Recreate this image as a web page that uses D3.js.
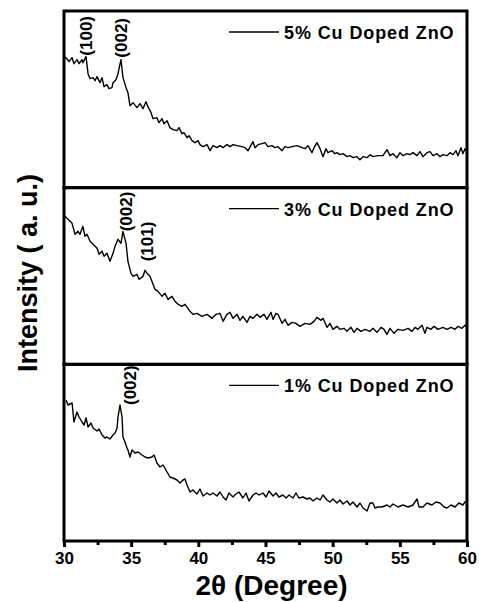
<!DOCTYPE html>
<html>
<head>
<meta charset="utf-8">
<script src="https://cdn.jsdelivr.net/npm/d3@7"></script>
<style>
  body { margin: 0; background: #fff; }
  svg { font-family: "Liberation Sans", Arial, sans-serif; font-weight: bold; }
  path.line { fill: none; stroke: #000; stroke-width: 1.4px; stroke-linejoin: round; }
  rect.frame { fill: none; stroke: #000; stroke-width: 3px; }
  .x.axis path { display: none; }
  .x.axis line { stroke: #000; stroke-width: 3px; }
</style>
</head>
<body>
<svg id="svg"></svg>
<script>
// 2theta (deg) / intensity (a.u.), one pair of arrays per sample
var twoTheta5 = [30.0,30.22,30.37,30.6,30.74,30.97,31.12,31.34,31.41,31.64,31.79,31.94,32.16,32.31,32.46,32.68,32.83,32.98,33.2,33.35,33.57,33.65,33.87,34.02,34.24,34.39,34.62,34.76,34.91,35.14,35.43,35.66,35.88,36.1,36.25,36.48,36.63,36.92,37.07,37.3,37.44,37.67,37.89,38.11,38.41,38.56,38.78,38.93,39.16,39.31,39.53,39.75,39.98,
  40.12,40.35,40.65,40.87,41.09,41.39,41.61,41.84,42.13,42.36,42.58,42.88,43.25,43.47,43.7,44.07,44.22,44.44,44.74,44.96,45.19,45.48,45.71,45.93,46.23,46.45,46.68,46.97,47.35,47.72,47.94,48.16,48.46,48.61,48.83,49.06,49.28,49.5,49.65,49.95,50.17,50.32,50.54,50.77,51.07,51.29,51.51,51.81,52.03,52.26,52.56,52.78,53.0,53.37,53.75,54.04,54.27,54.49,54.79,55.01,55.24,55.53,55.76,55.98,56.28,56.5,56.72,57.02,57.25,57.47,57.77,57.99,58.21,58.51,58.74,58.96,59.18,59.33,59.55,59.7,59.85,60.0];
var intensity5 = [131,129,126,130,124,128,124,128,125,131,114,109,110,107,111,105,110,101,103,99,100,105,108,114,128,110,100,95,82,85,80,84,79,86,81,75,69,70,65,69,64,67,60,58,57,60,54,55,50,52,47,45,47,
  43,41,43,37,42,40,42,40,43,41,43,42,41,40,37,46,40,43,44,45,41,42,40,41,37,41,40,41,42,40,39,42,35,40,45,39,31,39,35,37,34,35,33,34,31,32,30,31,28,31,30,33,31,32,32,38,32,34,30,35,32,34,33,35,32,36,31,35,36,32,34,31,33,32,35,33,37,32,40,34,39,36];

var twoTheta3 = [30.07,30.3,30.6,30.82,31.04,31.19,31.41,31.56,31.71,31.94,32.16,32.46,32.61,32.83,32.98,33.2,33.42,33.65,33.8,34.02,34.24,34.39,34.62,34.76,34.99,35.14,35.43,35.58,35.88,36.03,36.18,36.4,36.63,36.77,37.0,37.3,37.52,37.74,38.04,38.26,38.49,38.78,39.01,39.23,
  39.38,39.6,39.9,40.27,40.65,41.02,41.32,41.61,41.84,42.13,42.36,42.58,42.88,43.1,43.32,43.62,43.85,44.07,44.37,44.59,44.89,45.11,45.41,45.56,45.78,45.93,46.23,46.45,46.68,46.97,47.27,47.57,47.94,48.31,48.61,48.83,49.13,49.28,49.58,49.8,50.02,50.32,50.54,50.84,51.07,51.36,51.59,51.81,52.11,52.41,52.78,53.0,53.3,53.6,53.82,54.04,54.27,54.57,54.86,55.24,55.61,55.91,56.13,56.35,56.65,56.87,57.02,57.32,57.54,57.84,58.21,58.51,58.81,59.11,59.33,59.63,59.85,60.0];
var intensity3 = [148,145,141,130,133,130,138,128,130,123,120,116,110,113,108,111,103,111,118,125,121,133,121,103,91,88,90,85,88,94,91,88,80,75,73,68,71,65,68,63,60,58,60,56,
  53,50,51,48,50,46,50,51,43,50,52,46,50,44,48,42,48,46,50,47,50,45,52,45,51,50,41,45,39,42,41,38,41,40,43,47,44,46,37,41,35,38,35,36,33,37,32,36,33,35,33,36,32,37,35,30,36,31,35,34,36,33,37,35,39,31,37,35,38,35,37,35,37,35,38,36,39,37];

var twoTheta1 = [30.15,30.3,30.6,30.74,30.97,31.12,31.34,31.49,31.64,31.79,32.01,32.16,32.46,32.61,32.83,33.05,33.2,33.42,33.65,33.8,33.95,34.02,34.17,34.32,34.39,34.54,34.69,34.76,34.91,35.06,35.29,35.51,35.81,36.03,36.25,36.55,36.7,36.92,37.15,37.37,37.67,37.89,38.11,38.41,38.64,38.86,39.01,39.16,
  39.38,39.6,39.9,40.12,40.35,40.65,40.87,41.09,41.39,41.61,41.84,42.06,42.28,42.58,42.8,43.03,43.32,43.55,43.77,44.07,44.29,44.52,44.81,45.04,45.26,45.56,45.78,46.0,46.3,46.53,46.75,47.05,47.27,47.49,47.79,48.09,48.31,48.54,48.83,49.06,49.28,49.58,49.8,50.02,50.32,50.54,50.77,51.07,51.29,51.51,51.81,52.03,52.26,52.56,52.78,53.0,53.15,53.37,53.67,54.04,54.27,54.49,54.86,55.24,55.61,55.98,56.28,56.43,56.72,57.02,57.39,57.69,57.99,58.29,58.51,58.81,59.11,59.4,59.7,59.85,60.0];
var intensity1 = [141,136,138,119,129,124,119,116,123,114,118,113,110,112,106,103,104,102,106,108,113,124,136,124,104,99,93,91,84,91,88,89,86,84,83,84,86,78,74,76,69,64,63,61,58,61,62,56,
  49,51,47,52,45,48,46,48,45,49,44,41,48,44,47,49,43,48,40,46,48,46,48,44,50,45,48,44,46,43,46,43,48,43,44,42,43,40,43,41,46,41,39,42,38,41,37,40,36,39,34,38,33,30,38,38,33,34,34,36,34,37,34,36,34,36,42,34,34,38,36,39,38,34,33,36,34,38,36,39,40];

var sampleNames = ["5% Cu Doped ZnO", "3% Cu Doped ZnO", "1% Cu Doped ZnO"];

// Miller index labels: text, 2theta where the label sits, intensity at its lower end
var peakLabels5 = [{hkl: "(100)", at: 31.64, h: 132}, {hkl: "(002)", at: 34.24, h: 130}];
var peakLabels3 = [{hkl: "(002)", at: 34.6, h: 133}, {hkl: "(101)", at: 36.2, h: 103}];
var peakLabels1 = [{hkl: "(002)", at: 34.95, h: 136}];

var xTicks = [30, 35, 40, 45, 50, 55, 60];
var xMinorTicks = [32.5, 37.5, 42.5, 47.5, 52.5, 57.5];

var panels = [
  {x: twoTheta5, y: intensity5, name: sampleNames[0], labels: peakLabels5},
  {x: twoTheta3, y: intensity3, name: sampleNames[1], labels: peakLabels3},
  {x: twoTheta1, y: intensity1, name: sampleNames[2], labels: peakLabels1}
];

var margin = {top: 11, right: 12, bottom: 61, left: 64};
var totalW = 479, totalH = 602;
var width = totalW - margin.left - margin.right;
var height = totalH - margin.top - margin.bottom;
var panelH = height / panels.length;

var x = d3.scaleLinear().domain([30, 60]).range([0, width]);
var y = d3.scaleLinear().domain([0, panelH]).range([panelH, 0]);

var line = d3.line()
  .x(function(d) { return x(d[0]); })
  .y(function(d) { return y(d[1]); });

var svg = d3.select("#svg")
  .attr("width", totalW)
  .attr("height", totalH)
  .append("g")
  .attr("transform", "translate(" + margin.left + "," + margin.top + ")");

panels.forEach(function(p, i) {
  var g = svg.append("g")
    .attr("transform", "translate(0," + (i * panelH) + ")");

  g.append("clipPath")
    .attr("id", "clip" + i)
    .append("rect")
    .attr("width", width)
    .attr("height", panelH);

  g.append("path")
    .datum(d3.zip(p.x, p.y))
    .attr("class", "line")
    .attr("clip-path", "url(#clip" + i + ")")
    .attr("d", line);

  // legend: short line sample + name
  g.append("line")
    .attr("x1", 165).attr("x2", 215)
    .attr("y1", 21).attr("y2", 21)
    .attr("stroke", "#000").attr("stroke-width", 1.4);
  g.append("text")
    .attr("x", 220)
    .attr("y", 28)
    .style("font-size", "18px")
    .style("letter-spacing", "0.9px")
    .text(p.name);

  p.labels.forEach(function(l) {
    g.append("text")
      .attr("transform", "translate(" + (x(l.at) + 6) + "," + y(l.h) + ") rotate(-90)")
      .style("font-size", "17px")
      .text(l.hkl);
  });

  g.append("rect")
    .attr("class", "frame")
    .attr("width", width)
    .attr("height", panelH);
});

// bottom axis with major and minor ticks
svg.append("g")
  .attr("class", "x axis")
  .attr("transform", "translate(0," + height + ")")
  .call(d3.axisBottom(x).tickValues(xTicks).tickSize(6).tickPadding(5).tickFormat(d3.format("d")))
  .selectAll("text")
  .style("font-size", "17px")
  .style("font-family", "'Liberation Sans', Arial, sans-serif")
  .style("font-weight", "bold")
  .attr("fill", "#000");

svg.append("g")
  .attr("class", "x axis")
  .attr("transform", "translate(0," + height + ")")
  .call(d3.axisBottom(x).tickValues(xMinorTicks).tickSize(4).tickFormat(""));

svg.append("text")
  .attr("x", width / 2 + 6)
  .attr("y", height + 54)
  .style("text-anchor", "middle")
  .style("font-size", "28px")
  .text("2\u03b8 (Degree)");

svg.append("text")
  .attr("transform", "translate(" + (37 - margin.left) + "," + (273 - margin.top) + ") rotate(-90)")
  .style("text-anchor", "middle")
  .style("font-size", "27px")
  .text("Intensity ( a. u.)");
</script>
</body>
</html>
